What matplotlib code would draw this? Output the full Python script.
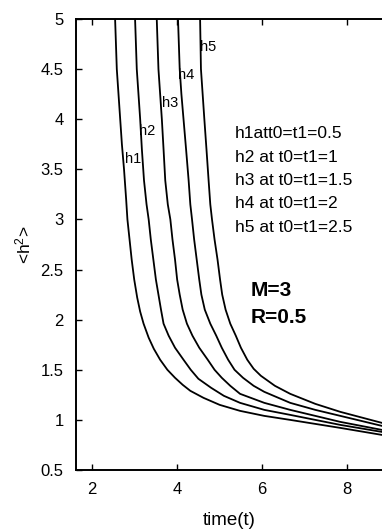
import matplotlib
matplotlib.use("Agg")
import matplotlib.pyplot as plt

plt.rcParams['font.family'] = ['Liberation Sans', 'DejaVu Sans']
plt.rcParams['mathtext.default'] = 'regular'

# data
t1 = [2.54, 2.56, 2.58, 2.62, 2.66, 2.70, 2.75, 2.80, 2.83, 2.88, 2.93, 2.99, 3.06, 3.13, 3.21, 3.33, 3.45,
      3.60, 3.77, 3.95, 4.13, 4.31, 4.62, 5.00, 5.48, 6.05, 6.66, 7.25, 7.84, 8.82]
h1 = [5.00, 4.75, 4.50, 4.25, 4.00, 3.75, 3.50, 3.20, 3.00, 2.80, 2.60, 2.40, 2.22, 2.08, 1.96, 1.82, 1.71,
      1.60, 1.50, 1.42, 1.35, 1.29, 1.22, 1.15, 1.09, 1.04, 1.00, 0.96, 0.92, 0.85]
t2 = [3.01, 3.03, 3.05, 3.09, 3.13, 3.17, 3.22, 3.28, 3.33, 3.38, 3.44, 3.50, 3.56, 3.62, 3.68, 3.80, 3.95,
      4.15, 4.32, 4.50, 4.80, 5.10, 5.48, 6.05, 6.66, 7.25, 7.84, 8.82]
h2 = [5.00, 4.75, 4.50, 4.25, 4.00, 3.70, 3.39, 3.15, 3.00, 2.80, 2.60, 2.40, 2.25, 2.10, 1.96, 1.84, 1.72,
      1.60, 1.50, 1.41, 1.32, 1.24, 1.17, 1.10, 1.05, 1.00, 0.95, 0.88]
t3 = [3.52, 3.54, 3.56, 3.60, 3.64, 3.68, 3.72, 3.78, 3.84, 3.89, 3.95, 4.00, 4.06, 4.13, 4.23, 4.36, 4.52,
      4.72, 4.88, 5.05, 5.25, 5.48, 6.05, 6.66, 7.25, 7.84, 8.82]
h3 = [5.00, 4.75, 4.50, 4.25, 4.00, 3.70, 3.39, 3.15, 3.00, 2.80, 2.60, 2.40, 2.25, 2.10, 1.96, 1.84, 1.72,
      1.60, 1.50, 1.42, 1.34, 1.26, 1.17, 1.10, 1.04, 0.98, 0.90]
t4 = [4.02, 4.04, 4.06, 4.10, 4.15, 4.21, 4.27, 4.31, 4.35, 4.40, 4.46, 4.52, 4.57, 4.65, 4.78, 4.92, 5.05,
      5.20, 5.35, 5.55, 5.80, 6.05, 6.66, 7.25, 7.84, 8.82]
h4 = [5.00, 4.75, 4.50, 4.25, 4.00, 3.70, 3.39, 3.15, 3.00, 2.80, 2.60, 2.40, 2.25, 2.10, 1.96, 1.84, 1.72,
      1.60, 1.50, 1.42, 1.34, 1.28, 1.17, 1.10, 1.04, 0.94]
t5 = [4.54, 4.55, 4.56, 4.60, 4.64, 4.69, 4.74, 4.78, 4.82, 4.88, 4.95, 5.01, 5.06, 5.14, 5.25, 5.38, 5.50,
      5.65, 5.80, 5.97, 6.30, 6.66, 7.25, 7.84, 8.82]
h5 = [5.00, 4.75, 4.50, 4.25, 4.00, 3.70, 3.39, 3.15, 3.00, 2.80, 2.60, 2.40, 2.25, 2.10, 1.96, 1.84, 1.72,
      1.60, 1.51, 1.44, 1.34, 1.26, 1.16, 1.08, 0.97]

curves = [(t1, h1), (t2, h2), (t3, h3), (t4, h4), (t5, h5)]
curve_labels = ['h1', 'h2', 'h3', 'h4', 'h5']
label_t = [2.78, 3.10, 3.65, 4.02, 4.54]
label_h = [3.6, 3.88, 4.16, 4.44, 4.72]

legend_lines = ['h1att0=t1=0.5', 'h2 at t0=t1=1', 'h3 at t0=t1=1.5', 'h4 at t0=t1=2', 'h5 at t0=t1=2.5']
legend_h = [3.86, 3.62, 3.39, 3.16, 2.92]
xticks = [2, 4, 6, 8]
yticks = [0.5, 1, 1.5, 2, 2.5, 3, 3.5, 4, 4.5, 5]
yticklabels = ['0.5', '1', '1.5', '2', '2.5', '3', '3.5', '4', '4.5', '5']

W, H = 382, 531
fig = plt.figure(figsize=(W / 100, H / 100), dpi=100)
ax = fig.add_axes([76 / W, (H - 470) / H, (382 - 76) / W, (470 - 19) / H])

for t, h in curves:
    ax.plot(t, h, color='black', lw=1.3, solid_joinstyle='round')

for lab, lt, lh in zip(curve_labels, label_t, label_h):
    ax.text(lt, lh, lab, fontsize=10.5, ha='left', va='center')

for line, lh in zip(legend_lines, legend_h):
    ax.text(5.36, lh, line, fontsize=12.5, ha='left', va='center')
ax.text(5.72, 2.29, 'M=3', fontsize=15, fontweight='bold', ha='left', va='center')
ax.text(5.72, 2.02, 'R=0.5', fontsize=15, fontweight='bold', ha='left', va='center')

ax.set_xlim(1.62, 8.82)
ax.set_ylim(0.5, 5)
ax.set_xticks(xticks)
ax.set_yticks(yticks)
ax.set_xticklabels([str(v) for v in xticks])
ax.set_yticklabels(yticklabels)
ax.tick_params(direction='in', length=4, width=1, top=True, right=False, labelsize=12, pad=9)
for s in ['left', 'bottom', 'top']:
    ax.spines[s].set_linewidth(1.4)
ax.spines['right'].set_visible(False)

ax.set_xlabel('time(t)', fontsize=13.5)
ax.set_ylabel('<h$^2$>', fontsize=12.5)
ax.xaxis.set_label_coords(0.5, -0.093)
ax.yaxis.set_label_coords(-0.14, 0.5)

fig.savefig('out.png', dpi=100)
